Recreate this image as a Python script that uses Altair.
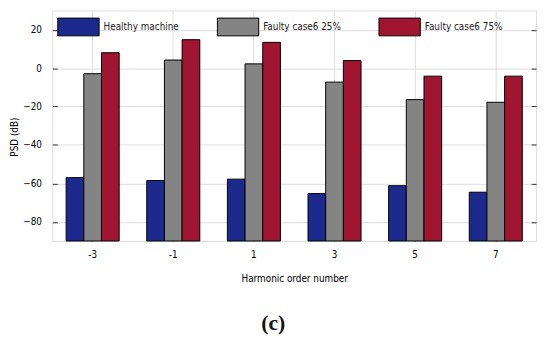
import altair as alt
import pandas as pd

orders = ["-3", "-1", "1", "3", "5", "7"]
series = ["Healthy machine", "Faulty case6 25%", "Faulty case6 75%"]
healthy = [-57.0, -58.5, -57.8, -65.3, -61.2, -64.6]
faulty25 = [-2.9, 4.2, 2.2, -7.3, -16.4, -17.8]
faulty75 = [8.0, 14.8, 13.4, 3.9, -4.2, -4.2]
colors = ["#1b2a8c", "#848484", "#a01530"]
y_ticks = [-80, -60, -40, -20, 0, 20]

rows = []
for vals, s in zip([healthy, faulty25, faulty75], series):
    for o, v in zip(orders, vals):
        rows.append({"order": o, "series": s, "psd": v})
df = pd.DataFrame(rows)
ticks_df = pd.DataFrame({"v": y_ticks})

font = "Liberation Sans Narrow, Arial Narrow, DejaVu Sans Condensed, Liberation Sans, Arial, sans-serif"
yscale = alt.Scale(domain=[-90, 30], nice=False, zero=False)

bars = alt.Chart(df).mark_bar(stroke="black", strokeWidth=1, opacity=1).encode(
    x=alt.X("order:N", sort=orders,
            scale=alt.Scale(paddingInner=0, paddingOuter=0),
            axis=alt.Axis(title="Harmonic order number", grid=True, bandPosition=0.5,
                          labelAngle=0, offset=-5, tickSize=5, ticks=True, domain=False,
                          labelPadding=9, titlePadding=14, tickColor="#333",
                          titleFontWeight="normal", titleFont=font, titleFontSize=10,
                          labelFont=font, labelFontSize=10)),
    xOffset=alt.XOffset("series:N", sort=series,
                        scale=alt.Scale(paddingOuter=0.78, paddingInner=0)),
    y=alt.Y("psd:Q", scale=yscale,
            axis=alt.Axis(title="PSD (dB)", values=y_ticks, grid=True, offset=-5,
                          tickSize=5, domain=False, labelPadding=11,
                          tickColor="#333", titleY=128, titleX=-38, titleAngle=270,
                          titleBaseline="bottom", titleAlign="center",
                          titleFontWeight="normal", titleFont=font, titleFontSize=10,
                          labelFont=font, labelFontSize=10)),
    y2=alt.datum(-90),
    color=alt.Color("series:N", sort=series,
                    scale=alt.Scale(domain=series, range=colors),
                    legend=alt.Legend(title=None, orient="none", legendX=17, legendY=7,
                                      direction="horizontal", columns=3, columnPadding=36,
                                      symbolType="M-2.33,-1H2.33V1H-2.33Z", symbolSize=324,
                                      symbolStrokeColor="black", symbolStrokeWidth=1,
                                      symbolOpacity=1, labelOffset=16, padding=0,
                                      labelFont=font, labelFontSize=10, labelColor="#222")),
)

right_ticks = alt.Chart(ticks_df).mark_point(opacity=0).encode(
    y=alt.Y("v:Q", scale=yscale,
            axis=alt.Axis(orient="right", title=None, labels=False, grid=False, offset=-5,
                          tickSize=5, domain=False, tickColor="#333", values=y_ticks)),
)

chart = alt.layer(bars, right_ticks).resolve_axis(y="independent").properties(
    width=491, height=234,
    autosize=alt.AutoSizeParams(type="none"),
    padding={"left": 45, "top": 0, "right": 6, "bottom": 100},
    title=alt.TitleParams("(c)", orient="bottom", frame="bounds", anchor="middle",
                          font="Liberation Serif, Times New Roman, serif", fontSize=22,
                          fontWeight="bold", color="#111", offset=30),
).configure_view(stroke="black", strokeWidth=1).configure_axis(
    gridColor="#d4d4d4", gridWidth=1, labelColor="#333", titleColor="#222",
).configure(background="white")

chart.save("out.html", embed_options={"renderer": "svg", "actions": False})
